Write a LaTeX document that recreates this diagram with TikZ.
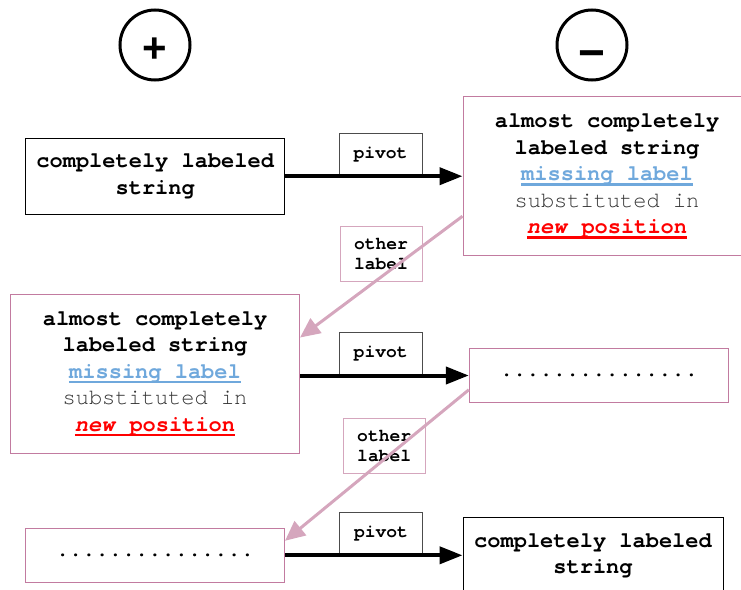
\documentclass[tikz,border=0pt]{standalone}
\usepackage{fontspec}
\setmainfont{Liberation Serif}
\setsansfont{Liberation Sans}
\setmonofont{TeX Gyre Cursor}
\usetikzlibrary{arrows.meta}

\definecolor{boxpink}{HTML}{C27BA0}
\definecolor{linkpink}{HTML}{D5A6BD}
\definecolor{labelblue}{HTML}{6FA8DC}
\definecolor{textgray}{HTML}{333333}

\newsavebox\undlbox
\newcommand{\undl}[1]{\sbox\undlbox{#1}\rlap{\rule[-5pt]{\wd\undlbox}{2.2pt}}\usebox\undlbox}
\newcommand{\missing}{{\color{labelblue}\undl{missing label}}}
\newcommand{\subst}{{\mdseries\color{textgray}substituted in}}
\newcommand{\newpos}{{\color{red}\undl{\textit{new} position}}}

\begin{document}
\begin{tikzpicture}[x=1pt,y=-1pt]
      \clip (0,0) rectangle (741,589);
      \begin{scope}[every node/.style={circle,draw,line width=3pt,minimum size=70pt,inner sep=0pt}]
        \node[font=\fontsize{42}{42}\sffamily\bfseries,text height=36pt,text depth=0.6pt] (plus) at (155,45) {+};
        \node[font=\fontsize{46}{46}\sffamily\bfseries,text height=47pt,text depth=0.8pt] (minus) at (592,45) {−};
      \end{scope}
      \begin{scope}[every node/.style={draw,line width=1pt,inner sep=0pt,align=center,
          font=\fontsize{22}{26.5}\selectfont\ttfamily\bfseries}]
        \node (tl) at (155.2,176.2) [minimum width=258.5pt,minimum height=75.7pt] {completely labeled\\string};
        \node[draw=boxpink] (tr) at (607,176.2) [minimum width=288pt,minimum height=159pt]
          {almost completely\\labeled string\\\missing\\\subst\\\newpos};
        \node[draw=boxpink] (ml) at (155,373.7) [minimum width=289pt,minimum height=159.3pt]
          {almost completely\\labeled string\\\missing\\\subst\\\newpos};
        \node[draw=boxpink] (mr) at (599,375.5) [minimum width=259.4pt,minimum height=54.4pt] {...............};
        \node[draw=boxpink] (bl) at (155,555.3) [minimum width=259pt,minimum height=54pt] {...............};
        \node (br) at (593,555.7) [minimum width=260pt,minimum height=76pt] {completely labeled\\string};
      \end{scope}
      \begin{scope}[every node/.style={draw,line width=1pt,inner sep=0pt,align=center,
          font=\fontsize{18}{20}\selectfont\ttfamily\bfseries}]
        \node[draw=black!70,minimum width=83pt,minimum height=42pt] (pivot1) at (380.5,154.2) {pivot};
        \node[draw=black!70,minimum width=83pt,minimum height=42pt] (pivot2) at (380.7,353.5) {pivot};
        \node[draw=black!70,minimum width=83pt,minimum height=42pt] (pivot3) at (381,533.9) {pivot};
        \node[draw=linkpink,minimum width=82pt,minimum height=55pt] (other1) at (381,254.2) {other\\label};
        \node[draw=linkpink,minimum width=82pt,minimum height=55pt] (other2) at (384.2,445.8) {other\\label};
      \end{scope}
      \begin{scope}[every path/.style={line width=4pt,-{Triangle[length=23pt,width=17pt]}}]
        \draw (tl.east) -- (tr.west);
        \draw (ml.east |- mr.west) -- (mr.west);
        \draw (bl.east) -- (bl.east -| br.west);
      \end{scope}
      \begin{scope}[every path/.style={draw=linkpink,line width=3pt,-{Triangle[length=20pt,width=18pt]}}]
        \draw ([yshift=-120pt]tr.north west) -- ([yshift=-44pt]ml.north east);
        \draw ([yshift=-42pt]mr.north west) -- ([yshift=-13pt]bl.north east);
      \end{scope}
    \end{tikzpicture}
\end{document}
